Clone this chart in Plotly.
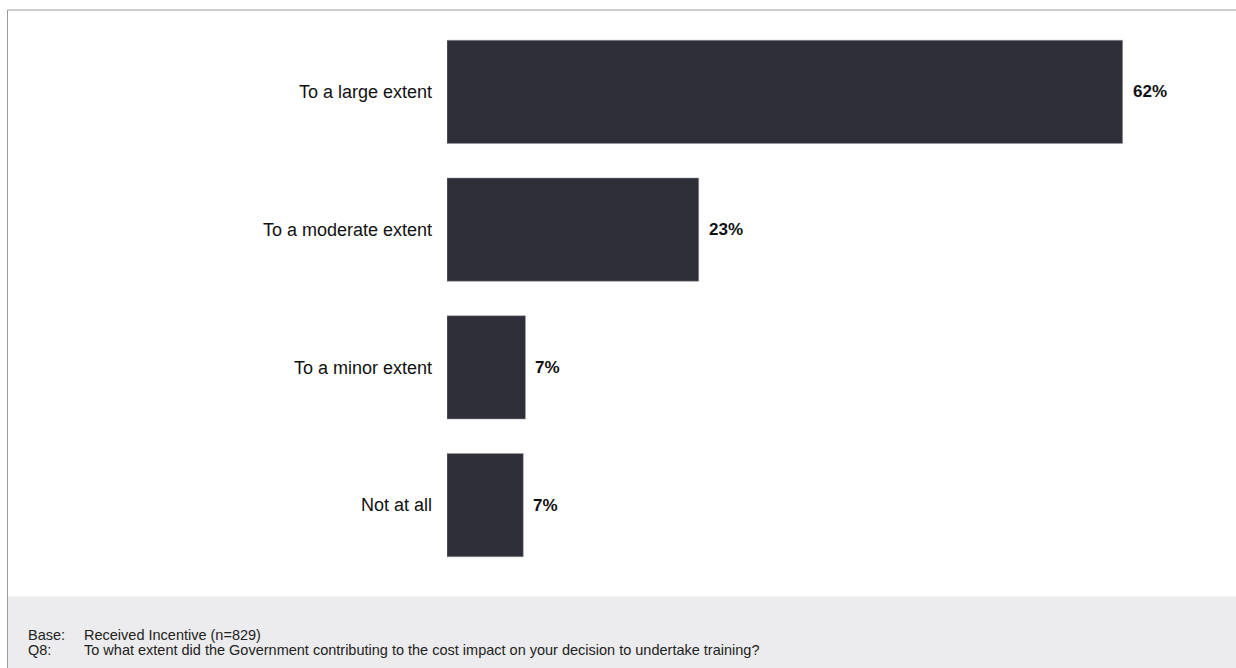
import plotly.graph_objects as go

categories = ["To a large extent", "To a moderate extent", "To a minor extent", "Not at all"]
values = [62.0, 23.1, 7.2, 7.0]
value_labels = ["62%", "23%", "7%", "7%"]
footer_keys = ["Base:", "Q8:"]
footer_texts = ["Received Incentive (n=829)",
                "To what extent did the Government contributing to the cost impact on your decision to undertake training?"]

W, H = 1236, 668
L, R, T, B = 447, 48, 22.5, 93.5
pw, ph = W - L - R, H - T - B

def px_x(x):
    return (x - L) / pw

def px_y(y):
    return (H - B - y) / ph

fig = go.Figure()
fig.add_trace(go.Bar(
    y=categories, x=values, orientation="h",
    marker=dict(color="#2f2f39", line=dict(color="#9a9aa2", width=0.5)),
    width=0.75, hoverinfo="skip",
))

annotations = []
for c, v, t in zip(categories, values, value_labels):
    annotations.append(dict(x=v, y=c, xref="x", yref="y", text="<b>" + t + "</b>",
                            showarrow=False, xanchor="left", yanchor="middle", xshift=8,
                            font=dict(family="Liberation Sans, Arial", size=17, color="#111111")))

for i, (k, t) in enumerate(zip(footer_keys, footer_texts)):
    yc = px_y(636 + 15 * i)
    annotations.append(dict(x=px_x(26), y=yc, xref="paper", yref="paper", text=k,
                            showarrow=False, xanchor="left", yanchor="middle",
                            font=dict(family="Liberation Sans, Arial", size=14.5, color="#222222")))
    annotations.append(dict(x=px_x(82), y=yc, xref="paper", yref="paper", text=t,
                            showarrow=False, xanchor="left", yanchor="middle",
                            font=dict(family="Liberation Sans, Arial", size=14.5, color="#222222")))

shapes = [
    dict(type="rect", xref="paper", yref="paper", x0=px_x(8), x1=px_x(W + 2),
         y0=px_y(597), y1=px_y(H + 2), fillcolor="#ececee", line=dict(width=0), layer="below"),
    dict(type="line", xref="paper", yref="paper", x0=px_x(7.5), x1=px_x(W + 2),
         y0=px_y(9.5), y1=px_y(9.5), line=dict(color="#9a9a9a", width=1)),
    dict(type="line", xref="paper", yref="paper", x0=px_x(7.5), x1=px_x(7.5),
         y0=px_y(9.5), y1=px_y(H + 2), line=dict(color="#9a9a9a", width=1)),
]

fig.update_layout(
    width=W, height=H,
    margin=dict(l=L, r=R, t=T, b=B),
    paper_bgcolor="white", plot_bgcolor="white",
    showlegend=False,
    xaxis=dict(range=[0, 68], visible=False, fixedrange=True),
    yaxis=dict(autorange="reversed", showgrid=False, zeroline=False, showline=False,
               ticks="", ticklabelstandoff=14, fixedrange=True,
               tickfont=dict(family="Liberation Sans, Arial", size=18, color="#111111")),
    annotations=annotations, shapes=shapes,
    font=dict(family="Liberation Sans, Arial"),
)

fig.write_html("out.html",
               config={"displayModeBar": False, "staticPlot": True},
               post_script="document.body.style.margin='0';document.body.style.padding='0';"
                           "document.body.style.overflow='hidden';")
